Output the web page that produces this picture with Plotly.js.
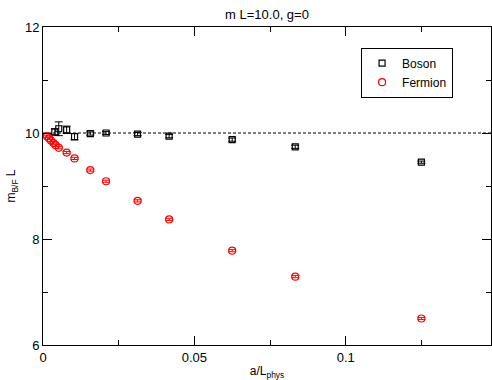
<!DOCTYPE html>
<html>
<head>
<meta charset="utf-8">
<script src="https://cdn.plot.ly/plotly-3.0.1.min.js"></script>
<style>html,body{margin:0;padding:0;background:#fff;}#chart{width:492px;height:380px;}</style>
</head>
<body>
<div id="chart"></div>
<script>
// Boson data
var bosonX = [0.125, 0.08333, 0.0625, 0.04167, 0.03125, 0.02083, 0.015625, 0.010417, 0.0078125, 0.005208, 0.003906];
var bosonY = [9.45, 9.74, 9.875, 9.94, 9.98, 10.0, 9.99, 9.93, 10.06, 10.08, 10.02];
var bosonErr = [0.02, 0.03, 0.03, 0.03, 0.03, 0.03, 0.03, 0.06, 0.07, 0.13, 0.06];

// Fermion data
var fermionX = [0.125, 0.08333, 0.0625, 0.04167, 0.03125, 0.02083, 0.015625, 0.010417, 0.0078125, 0.005208, 0.004167, 0.003472, 0.002604, 0.001953, 0.001302];
var fermionY = [6.50, 7.29, 7.78, 8.37, 8.72, 9.09, 9.30, 9.52, 9.63, 9.72, 9.77, 9.81, 9.86, 9.90, 9.94];
var fermionErr = [0.02, 0.02, 0.02, 0.02, 0.02, 0.02, 0.02, 0.02, 0.02, 0.02, 0.02, 0.02, 0.02, 0.02, 0.02];

var refValue = 10;
var titleText = 'm L=10.0, g=0';
var xTitle = 'a/L<sub>phys</sub>';
var yTitle = 'm<sub>B/F</sub> L';

var font = 'Liberation Sans, Arial, Helvetica, sans-serif';

var traces = [
  {
    x: bosonX, y: bosonY, name: 'Boson', type: 'scatter', mode: 'markers',
    marker: {symbol: 'square-open', size: 6, color: '#000', line: {width: 1.2, color: '#000'}},
    error_y: {type: 'data', array: bosonErr, visible: true, color: '#000', thickness: 1, width: 4}
  },
  {
    x: fermionX, y: fermionY, name: 'Fermion', type: 'scatter', mode: 'markers',
    marker: {symbol: 'circle-open', size: 7, color: '#ff0000', line: {width: 1.2, color: '#ff0000'}},
    error_y: {type: 'data', array: fermionErr, visible: true, color: '#ff0000', thickness: 1, width: 4}
  }
];

var layout = {
  width: 492, height: 380,
  margin: {l: 43, r: 1, t: 27, b: 35, pad: 0},
  paper_bgcolor: '#fff', plot_bgcolor: '#fff',
  font: {family: font, size: 13, color: '#000'},
  title: {text: titleText, font: {family: font, size: 13, color: '#000'}, x: 0.5, xref: 'paper', y: 0.963, yanchor: 'middle'},
  showlegend: true,
  legend: {
    x: 0.71, y: 0.935, xanchor: 'left', yanchor: 'top',
    bgcolor: '#fff', bordercolor: '#000', borderwidth: 1,
    font: {family: font, size: 12, color: '#000'},
    tracegroupgap: 0, itemwidth: 30
  },
  xaxis: {
    range: [0, 0.148], autorange: false,
    showgrid: false, zeroline: false,
    showline: true, linecolor: '#000', linewidth: 1, mirror: 'ticks',
    ticks: 'inside', ticklen: 9, tickcolor: '#000', tickwidth: 1,
    tickmode: 'array', tickvals: [0, 0.05, 0.1], ticktext: ['0', '0.05', '0.1'],
    minor: {ticks: 'inside', ticklen: 5, tickcolor: '#000', tickwidth: 1, tickmode: 'array', tickvals: [0.025, 0.075, 0.125], showgrid: false},
    tickfont: {family: font, size: 13, color: '#000'},
    title: {text: xTitle, font: {family: font, size: 12, color: '#000'}, standoff: 4}
  },
  yaxis: {
    range: [6, 12], autorange: false,
    showgrid: false, zeroline: false,
    showline: true, linecolor: '#000', linewidth: 1, mirror: 'ticks',
    ticks: 'inside', ticklen: 9, tickcolor: '#000', tickwidth: 1,
    tickmode: 'array', tickvals: [6, 8, 10, 12],
    minor: {ticks: 'inside', ticklen: 5, tickcolor: '#000', tickwidth: 1, tickmode: 'array', tickvals: [7, 9, 11], showgrid: false},
    tickfont: {family: font, size: 13, color: '#000'},
    title: {text: yTitle, font: {family: font, size: 12, color: '#000'}, standoff: 6}
  },
  shapes: [
    {type: 'line', xref: 'paper', yref: 'y', x0: 0, x1: 1, y0: refValue, y1: refValue,
     line: {color: '#000', width: 1, dash: '3px,2px'}, layer: 'below'}
  ]
};

Plotly.newPlot('chart', traces, layout, {displayModeBar: false, staticPlot: true});
</script>
</body>
</html>
